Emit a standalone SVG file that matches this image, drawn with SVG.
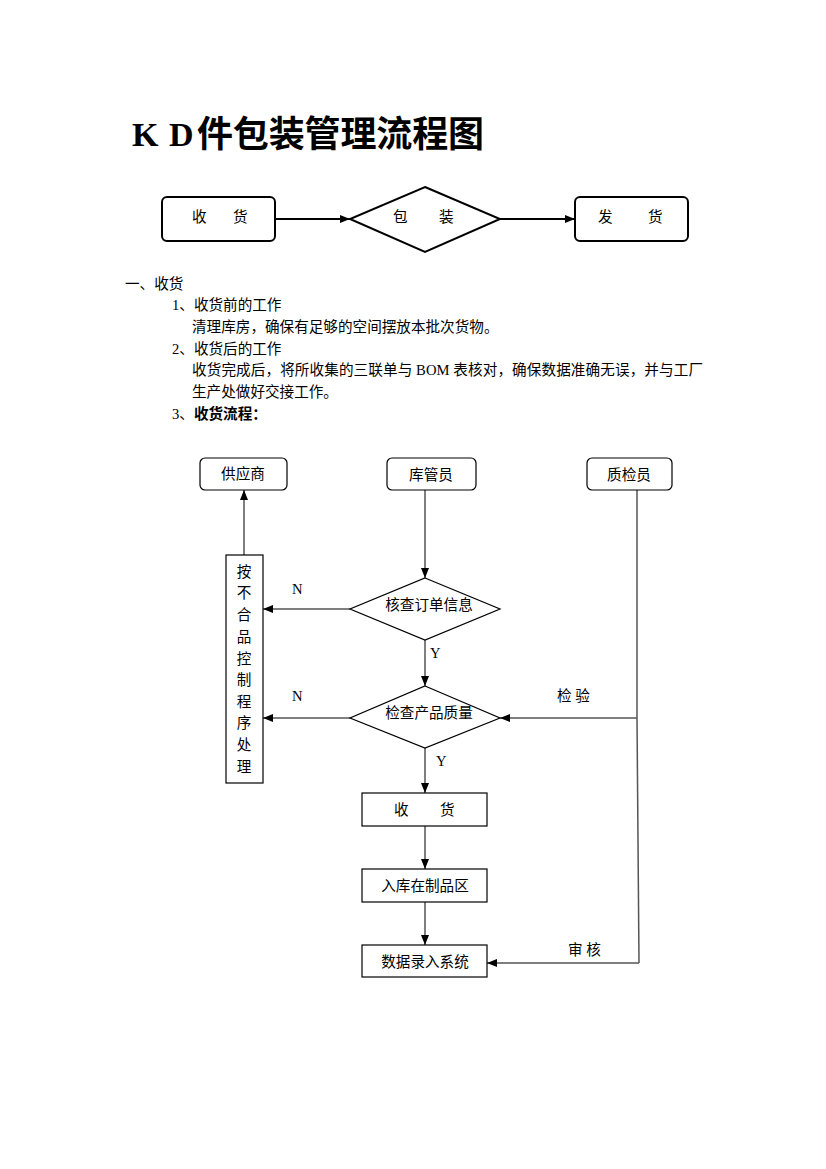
<svg xmlns="http://www.w3.org/2000/svg" width="826" height="1169" viewBox="0 0 826 1169">
<style>
text{font-family:"Liberation Serif","Noto Sans CJK SC",serif;fill:#000}
.t{font-size:14.6px}
.c{text-anchor:middle}
.box{fill:#fff;stroke:#000;stroke-width:1.2}
.tbox{fill:#fff;stroke:#000;stroke-width:2}
.ln{stroke:#555;stroke-width:1.5;fill:none}
.tl{stroke:#000;stroke-width:2;fill:none}
</style>
<defs>
<marker id="ah" viewBox="0 0 10 10" refX="10" refY="5" markerWidth="10" markerHeight="10" markerUnits="userSpaceOnUse" orient="auto">
<path d="M0,1 L10,5 L0,9 Z" fill="#000"/>
</marker>
</defs>
<rect width="826" height="1169" fill="#fff"/>
<g id="title">
<text x="132" y="146" font-size="34" font-weight="bold">K</text>
<text x="169" y="146" font-size="34" font-weight="bold">D</text>
<text x="197" y="147" font-size="36" font-weight="bold" textLength="287" lengthAdjust="spacing">件包装管理流程图</text>
</g>
<g id="top-connectors">
<line class="tl" x1="275" y1="219" x2="350" y2="219" marker-end="url(#ah)"/>
<line class="tl" x1="500" y1="219" x2="575" y2="219" marker-end="url(#ah)"/>
</g>
<g id="top-receive">
<rect class="tbox" x="162" y="197" width="113" height="44" rx="5"/>
<text class="t" x="192" y="222">收</text><text class="t" x="233" y="222">货</text>
</g>
<g id="top-pack">
<polygon class="tbox" points="425,187 500,219 425,252 350,219"/>
<text class="t" x="393" y="222">包</text><text class="t" x="439" y="222">装</text>
</g>
<g id="top-ship">
<rect class="tbox" x="575" y="197" width="113" height="44" rx="5"/>
<text class="t" x="598" y="222">发</text><text class="t" x="648" y="222">货</text>
</g>
<g id="body-text" class="t">
<text x="125" y="289">一、收货</text>
<text x="172" y="310">1、收货前的工作</text>
<text x="192" y="332">清理库房，确保有足够的空间摆放本批次货物。</text>
<text x="172" y="354">2、收货后的工作</text>
<text x="192" y="375" textLength="511" lengthAdjust="spacing">收货完成后，将所收集的三联单与 BOM 表核对，确保数据准确无误，并与工厂</text>
<text x="192" y="397">生产处做好交接工作。</text>
<text x="172" y="419">3、<tspan font-weight="bold">收货流程：</tspan></text>
</g>
<g id="connectors">
<line class="ln" x1="425" y1="490" x2="425" y2="578" marker-end="url(#ah)"/>
<line class="ln" x1="350" y1="609" x2="263" y2="609" marker-end="url(#ah)"/>
<line class="ln" x1="244" y1="555" x2="244" y2="490" marker-end="url(#ah)"/>
<line class="ln" x1="425" y1="640" x2="425" y2="686" marker-end="url(#ah)"/>
<line class="ln" x1="350" y1="718" x2="263" y2="718" marker-end="url(#ah)"/>
<polyline class="ln" points="637,490 637,718"/>
<line class="ln" x1="637" y1="718" x2="500" y2="718" marker-end="url(#ah)"/>
<line class="ln" x1="425" y1="748" x2="425" y2="793" marker-end="url(#ah)"/>
<line class="ln" x1="425" y1="826" x2="425" y2="869" marker-end="url(#ah)"/>
<line class="ln" x1="425" y1="902" x2="425" y2="945" marker-end="url(#ah)"/>
<polyline class="ln" points="637,718 639,963"/>
<line class="ln" x1="639" y1="963" x2="487" y2="963" marker-end="url(#ah)"/>
<text class="t" x="292" y="594">N</text>
<text class="t" x="430" y="658">Y</text>
<text class="t" x="292" y="701">N</text>
<text class="t" x="557" y="701">检 验</text>
<text class="t" x="436" y="766">Y</text>
<text class="t" x="568" y="955">审 核</text>
</g>
<g id="supplier">
<rect class="box" x="200" y="458" width="87" height="32" rx="5"/>
<text class="t c" x="243" y="479">供应商</text>
</g>
<g id="keeper">
<rect class="box" x="387" y="458" width="89" height="32" rx="5"/>
<text class="t c" x="431" y="480">库管员</text>
</g>
<g id="inspector">
<rect class="box" x="587" y="458" width="85" height="32" rx="5"/>
<text class="t c" x="629" y="480">质检员</text>
</g>
<g id="check-order">
<polygon class="box" points="425,578 500,609 425,640 350,609"/>
<text class="t c" x="429" y="610">核查订单信息</text>
</g>
<g id="check-quality">
<polygon class="box" points="425,686 500,718 425,748 350,718"/>
<text class="t c" x="429" y="718">检查产品质量</text>
</g>
<g id="nonconform">
<rect class="box" x="226" y="555" width="37" height="228"/>
<g class="t c">
<text x="244" y="577">按</text>
<text x="244" y="598">不</text>
<text x="244" y="620">合</text>
<text x="244" y="642">品</text>
<text x="244" y="664">控</text>
<text x="244" y="685">制</text>
<text x="244" y="707">程</text>
<text x="244" y="728">序</text>
<text x="244" y="750">处</text>
<text x="244" y="772">理</text>
</g>
</g>
<g id="receive">
<rect class="box" x="362" y="793" width="125" height="33"/>
<text class="t" x="394" y="815">收</text><text class="t" x="440" y="815">货</text>
</g>
<g id="store">
<rect class="box" x="362" y="869" width="125" height="33"/>
<text class="t c" x="425" y="891">入库在制品区</text>
</g>
<g id="entry">
<rect class="box" x="362" y="945" width="125" height="32"/>
<text class="t c" x="425" y="967">数据录入系统</text>
</g>
</svg>
